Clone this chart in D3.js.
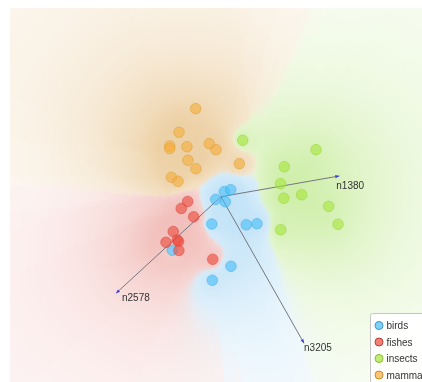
<!DOCTYPE html>
<html>
<head>
<meta charset="utf-8">
<script src="https://cdn.jsdelivr.net/npm/d3@7"></script>
<style>
  html, body { margin: 0; padding: 0; background: #fff; }
  #wrap { position: relative; width: 422px; height: 382px; overflow: hidden; }
  #bg, #fg { position: absolute; left: 0; top: 0; }
</style>
</head>
<body>
<div id="wrap">
  <canvas id="bg" width="422" height="382"></canvas>
  <svg id="fg" width="422" height="382"></svg>
</div>
<script>
// Projection of the zoo data onto three attribute anchors (FreeViz-style).
const classes = ["birds", "fishes", "insects", "mammal"];
const classColors = ["#46befa", "#ed4a3c", "#a6e63a", "#f5ae3a"];
// tint used for the class-density background at its densest
const densityTints = [[192, 226, 247], [241, 188, 184], [206, 238, 168], [237, 209, 166]];

const birdsX   = [0.024, 0.069, -0.038, 0.031, -0.066, 0.181, 0.257, -0.348, 0.071, -0.062];
const birdsY   = [0.036, 0.050, -0.019, -0.036, -0.195, -0.200, -0.193, -0.383, -0.497, -0.597];
const fishesX  = [-0.238, -0.284, -0.195, -0.341, -0.393, -0.312, -0.303, -0.301, -0.059];
const fishesY  = [-0.034, -0.084, -0.144, -0.249, -0.326, -0.309, -0.320, -0.384, -0.447];
const insectsX = [0.155, 0.679, 0.452, 0.426, 0.576, 0.448, 0.769, 0.836, 0.426];
const insectsY = [0.403, 0.336, 0.214, 0.093, 0.014, -0.011, -0.069, -0.197, -0.236];
const mammalX  = [-0.181, -0.300, -0.366, -0.366, -0.243, -0.084, -0.036, -0.236, -0.179, 0.131, -0.354, -0.307];
const mammalY  = [0.629, 0.460, 0.362, 0.344, 0.357, 0.379, 0.336, 0.260, 0.200, 0.236, 0.139, 0.110];

const anchorNames = ["n1380", "n2578", "n3205"];
const anchorX = [0.845, -0.750, 0.593];
const anchorY = [0.148, -0.690, -1.047];

const W = 422, H = 382;
const plot = { left: 10, top: 8, right: 422, bottom: 382 };

const x = d3.scaleLinear().domain([-1.5, 1.5]).range([11, 431]);
const y = d3.scaleLinear().domain([-1.5, 1.5]).range([406.7, -13.3]);

const seriesX = [birdsX, fishesX, insectsX, mammalX];
const seriesY = [birdsY, fishesY, insectsY, mammalY];
const points = [];
seriesX.forEach((xs, c) => xs.forEach((v, i) => points.push({ c, vx: v, vy: seriesY[c][i] })));
points.forEach(p => { p.px = x(p.vx); p.py = y(p.vy); });

// ---- class density background (weighted k nearest neighbours) ----
(function drawDensity() {
  const canvas = document.getElementById("bg");
  const ctx = canvas.getContext("2d");
  const pw = plot.right - plot.left, ph = plot.bottom - plot.top;
  const img = ctx.createImageData(pw, ph);
  const n = points.length, k = 10;
  const dist = new Float64Array(n);
  const used = new Uint8Array(n);
  for (let j = 0; j < ph; j++) {
    const gy = plot.top + j + 0.5;
    for (let i = 0; i < pw; i++) {
      const gx = plot.left + i + 0.5;
      for (let p = 0; p < n; p++) {
        const dx = points[p].px - gx, dy = points[p].py - gy;
        dist[p] = Math.sqrt(dx * dx + dy * dy);
        used[p] = 0;
      }
      let dsum = 0;
      const votes = [0, 0, 0, 0];
      for (let s = 0; s < k; s++) {
        let best = -1, bd = Infinity;
        for (let p = 0; p < n; p++) if (!used[p] && dist[p] < bd) { bd = dist[p]; best = p; }
        used[best] = 1;
        if (s < 6) dsum += bd;
        votes[points[best].c] += 1 / ((bd + 4) * (bd + 4));
      }
      const dm = dsum / 6;
      let vt = 0, vmax = 0, mt = 0;
      const mix = [0, 0, 0, 0];
      for (let c = 0; c < 4; c++) {
        vt += votes[c];
        if (votes[c] > vmax) vmax = votes[c];
        mix[c] = Math.pow(votes[c] / 1e-4 + 1e-9, 9);
        mt += mix[c];
      }
      const certainty = vmax / vt;
      const near = Math.exp(-Math.max(0, dm - 24) / 68);
      const t = (0.17 + 0.83 * near) * (0.35 + 0.65 * certainty);
      let r = 0, g = 0, b = 0;
      for (let c = 0; c < 4; c++) {
        const w = mix[c] / mt;
        r += w * densityTints[c][0]; g += w * densityTints[c][1]; b += w * densityTints[c][2];
      }
      const o = (j * pw + i) * 4;
      img.data[o]     = 255 - t * (255 - r);
      img.data[o + 1] = 255 - t * (255 - g);
      img.data[o + 2] = 255 - t * (255 - b);
      img.data[o + 3] = 255;
    }
  }
  ctx.putImageData(img, plot.left, plot.top);
})();

// ---- foreground: anchors, points, legend ----
const svg = d3.select("#fg");
svg.append("defs").append("clipPath").attr("id", "plotClip")
  .append("rect").attr("x", plot.left).attr("y", plot.top)
  .attr("width", plot.right - plot.left).attr("height", plot.bottom - plot.top);

const g = svg.append("g").attr("clip-path", "url(#plotClip)");

const anchors = anchorNames.map((name, i) => ({ name, vx: anchorX[i], vy: anchorY[i] }));
const labelShift = { n1380: [-3, 13], n2578: [6, 8], n3205: [0, 8] };

g.selectAll("line.axis").data(anchors).join("line")
  .attr("class", "axis")
  .attr("x1", x(0)).attr("y1", y(0))
  .attr("x2", d => x(d.vx)).attr("y2", d => y(d.vy))
  .attr("stroke", "#76767e").attr("stroke-width", 1);

// small arrow heads at the anchor ends
g.selectAll("path.head").data(anchors).join("path")
  .attr("class", "head")
  .attr("d", "M0,0 L-4,-1.6 L-4,1.6 Z")
  .attr("fill", "#3a3ae0")
  .attr("transform", d => {
    const ang = Math.atan2(y(d.vy) - y(0), x(d.vx) - x(0)) * 180 / Math.PI;
    return `translate(${x(d.vx)},${y(d.vy)}) rotate(${ang})`;
  });

g.selectAll("text.anchor").data(anchors).join("text")
  .attr("class", "anchor")
  .attr("x", d => x(d.vx) + labelShift[d.name][0])
  .attr("y", d => y(d.vy) + labelShift[d.name][1])
  .attr("font-family", "Liberation Sans, Arial, sans-serif")
  .attr("font-size", 10)
  .attr("fill", "#333")
  .text(d => d.name);

g.selectAll("circle.pt").data(points).join("circle")
  .attr("class", "pt")
  .attr("cx", d => d.px).attr("cy", d => d.py)
  .attr("r", 5.3)
  .attr("fill", d => classColors[d.c]).attr("fill-opacity", 0.6)
  .attr("stroke", d => d3.color(classColors[d.c]).darker(0.3)).attr("stroke-opacity", 0.5)
  .attr("stroke-width", 1);

const legend = svg.append("g").attr("transform", "translate(370.5,313.5)");
legend.append("rect")
  .attr("x", 0).attr("y", 0).attr("width", 70).attr("height", 80)
  .attr("rx", 2)
  .attr("fill", "#fff").attr("fill-opacity", 0.92)
  .attr("stroke", "#c6c6c6");
const items = legend.selectAll("g.item").data(classes).join("g")
  .attr("class", "item")
  .attr("transform", (d, i) => `translate(0,${12 + i * 16.5})`);
items.append("circle")
  .attr("cx", 8.5).attr("cy", 0).attr("r", 4)
  .attr("fill", (d, i) => classColors[i]).attr("fill-opacity", 0.7)
  .attr("stroke", (d, i) => d3.color(classColors[i]).darker(0.6)).attr("stroke-width", 1);
items.append("text")
  .attr("x", 16).attr("y", 3.6)
  .attr("font-family", "Liberation Sans, Arial, sans-serif")
  .attr("font-size", 10)
  .attr("fill", "#333")
  .text(d => d);
</script>
</body>
</html>
